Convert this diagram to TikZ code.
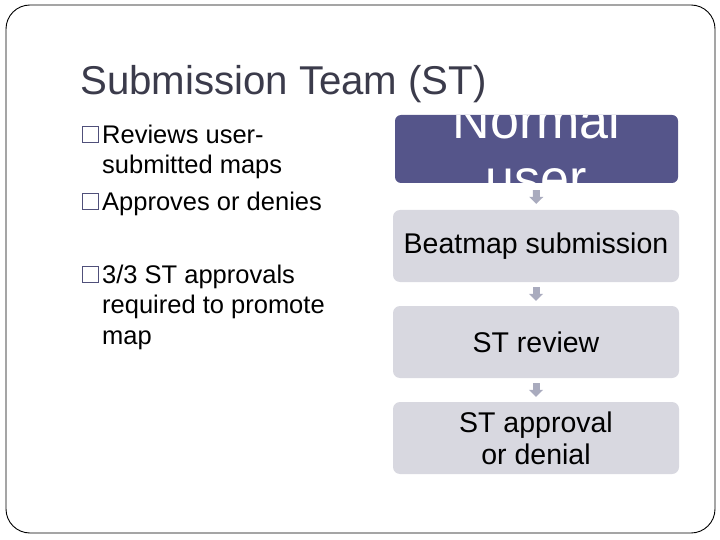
\documentclass[tikz,border=0pt]{standalone}
\usepackage{fontspec}
\setmainfont{Liberation Sans}
\usetikzlibrary{arrows.meta}
\definecolor{titlegray}{HTML}{3B3B4B}
\definecolor{userblue}{HTML}{55558A}
\definecolor{stepgray}{HTML}{D8D8E0}
\definecolor{arrowgray}{HTML}{A9ABBE}
\definecolor{bulletblue}{HTML}{50507A}
\begin{document}
\begin{tikzpicture}[x=1pt,y=-1pt,
	flowbox/.style={rounded corners=7pt,minimum width=286pt,minimum height=72pt,fill=stepgray,inner sep=0pt,align=center,font=\fontsize{28.5}{32}\selectfont},
	flowarrow/.style={arrowgray,line width=7pt,-{Triangle[width=14pt,length=7pt]},shorten <=5pt,shorten >=5pt},
	bulletbox/.style={draw=bulletblue,line width=1.1pt,minimum size=16pt,inner sep=0pt,anchor=south west},
	bullettext/.style={anchor=north west,inner sep=0pt,align=left,font=\fontsize{25.5}{30.5}\selectfont}]
	\useasboundingbox (0,0) rectangle (720,540);
	\draw[rounded corners=24pt,line width=0.9pt] (6,5) rectangle (715,533);
	\node[anchor=base west,inner sep=0pt,titlegray,font=\fontsize{40.2}{48}\selectfont] (title) at (80,95) {Submission Team (ST)};
	% left column
	\node[bullettext] (reviews) at (102,124.5) {Reviews user-\\submitted maps};
	\node[bullettext] (approves) at (102,191.5) {Approves or denies};
	\node[bullettext] (quota) at (102,264.5) {3/3 ST approvals\\required to promote\\map};
	\node[bulletbox] (bul1) at (82,143) {};
	\node[bulletbox] (bul2) at (82,210) {};
	\node[bulletbox] (bul3) at (82,283) {};
	% flow on the right
	\node[flowbox,fill=userblue,minimum width=283pt,minimum height=68pt,rounded corners=6pt] (user) at (536.5,149) {};
	\begin{scope}
		\clip[rounded corners=6pt] (user.south west) rectangle (user.north east);
		\node[white,align=center,inner sep=0pt,font=\fontsize{52}{58}\selectfont] (usertext) at (user.center) {Normal\\user};
	\end{scope}
	\node[flowbox] (submit) at (536,246) {\raisebox{-2pt}{Beatmap submission}};
	\node[flowbox] (review) at (536,342) {ST review};
	\node[flowbox] (verdict) at (536,438) {ST approval\\or denial};
	\draw[flowarrow,shorten <=7pt,shorten >=6pt] (user) -- (submit);
	\draw[flowarrow] (submit) -- (review);
	\draw[flowarrow] (review) -- (verdict);
\end{tikzpicture}
\end{document}
